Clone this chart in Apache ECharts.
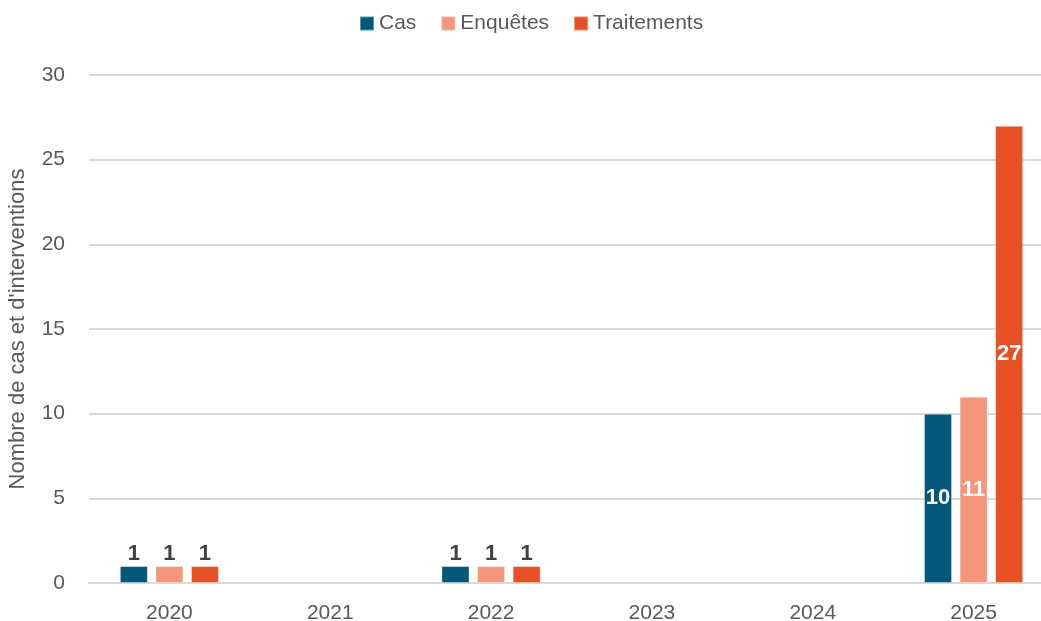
<!DOCTYPE html>
<html><head><meta charset="utf-8">
<script src="https://cdn.jsdelivr.net/npm/echarts@6/dist/echarts.min.js"></script>
<style>html,body{margin:0;padding:0;background:#fff}#c{width:1041px;height:621px}</style>
</head><body><div id="c"></div>
<script>
const categories = ['2020','2021','2022','2023','2024','2025'];
const cas = [1, 0, 1, 0, 0, 10];
const enquetes = [1, 0, 1, 0, 0, 11];
const traitements = [1, 0, 1, 0, 0, 27];
const seriesNames = ['Cas', 'Enquêtes', 'Traitements'];
const colors = ['#03587A', '#F3967C', '#E75025'];
const yTicks = { min: 0, max: 30, interval: 5 };
const yTitle = "Nombre de cas et d'interventions";

const FONT = '"Liberation Sans", Arial, sans-serif';
function mkData(arr) {
  return arr.map(v => {
    if (v === 0) return { value: v, itemStyle: { borderWidth: 0 }, label: { show: false } };
    if (v >= 5) return { value: v, label: { show: true, position: 'inside', color: '#ffffff' } };
    return { value: v, label: { show: true, position: 'top', distance: 1, color: '#404040' } };
  });
}
const dataSets = [cas, enquetes, traitements];
const chart = echarts.init(document.getElementById('c'), null, { renderer: 'canvas' });
chart.setOption({
  animation: false,
  color: colors,
  textStyle: { fontFamily: FONT },
  legend: {
    top: 8, left: 354, itemWidth: 14, itemHeight: 14, itemGap: 24,
    icon: 'rect',
    textStyle: { fontSize: 21, color: '#595959', fontFamily: FONT },
    data: seriesNames
  },
  grid: { left: 89, right: -13, top: 75, bottom: 38, containLabel: false, outerBoundsMode: 'none' },
  xAxis: {
    type: 'category', data: categories,
    axisLine: { show: true, lineStyle: { color: '#d9d9d9', width: 2 } },
    axisTick: { show: false },
    axisLabel: { fontSize: 21, color: '#595959', margin: 20, fontFamily: FONT }
  },
  yAxis: {
    type: 'value', min: yTicks.min, max: yTicks.max, interval: yTicks.interval,
    name: yTitle, nameLocation: 'middle', nameGap: 60, nameRotate: 90,
    nameTextStyle: { fontSize: 22, color: '#595959', fontFamily: FONT },
    axisLine: { show: false }, axisTick: { show: false },
    axisLabel: { fontSize: 21, color: '#595959', margin: 24, fontFamily: FONT },
    splitLine: { lineStyle: { color: '#d9d9d9', width: 2 } }
  },
  series: seriesNames.map((n, i) => ({
    name: n, type: 'bar', data: mkData(dataSets[i]),
    barWidth: 28, barGap: '27%',
    itemStyle: { color: colors[i], borderColor: 'rgba(255,255,255,0.35)', borderWidth: 1 },
    label: { fontSize: 22, fontWeight: 'bold', fontFamily: FONT }
  }))
});
</script></body></html>
